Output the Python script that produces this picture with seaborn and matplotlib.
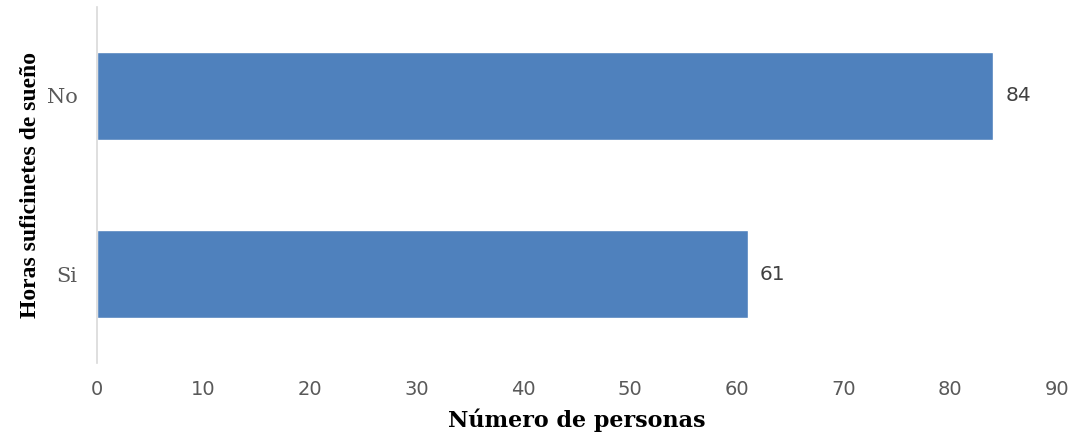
import matplotlib
matplotlib.use("Agg")
import matplotlib.pyplot as plt
import seaborn as sns
import pandas as pd

categories = ["No", "Si"]
values = [84, 61]
x_ticks = [0, 10, 20, 30, 40, 50, 60, 70, 80, 90]

sns.set_theme(style="white")
plt.rcParams['font.family'] = ['DejaVu Sans']

df = pd.DataFrame({"cat": categories, "val": values})

fig = plt.figure(figsize=(10.84, 4.36), dpi=100)
ax = fig.add_axes([0.0895, 0.1674, 0.8855, 0.8166])

sns.barplot(data=df, x="val", y="cat", orient="h", color="#4F81BD",
            saturation=1, width=0.494, ax=ax)

ax.set_xlim(0, 90)
ax.set_ylim(1.5, -0.5)
ax.set_xticks(x_ticks)
ax.set_xticklabels([str(t) for t in x_ticks], fontsize=14, color="#595959")
for lbl in ax.get_yticklabels():
    lbl.set_fontfamily("DejaVu Serif")
    lbl.set_fontsize(15)
    lbl.set_color("#595959")
ax.tick_params(axis="both", length=0)
ax.tick_params(axis="x", pad=12)
ax.tick_params(axis="y", pad=14)

for s in ["top", "right", "bottom"]:
    ax.spines[s].set_visible(False)
ax.spines["left"].set_color("#D9D9D9")
ax.spines["left"].set_linewidth(1.2)

ax.bar_label(ax.containers[0], labels=[str(v) for v in values], padding=9,
             fontsize=14.5, color="#404040")

ax.set_xlabel("Número de personas", fontfamily="DejaVu Serif", fontweight="bold",
              fontsize=16, color="black", labelpad=7)
ax.set_ylabel("Horas suficinetes de sueño", fontfamily="Liberation Serif",
              fontweight="bold", fontsize=17, color="black", labelpad=4)

fig.savefig("out.png", dpi=100)
